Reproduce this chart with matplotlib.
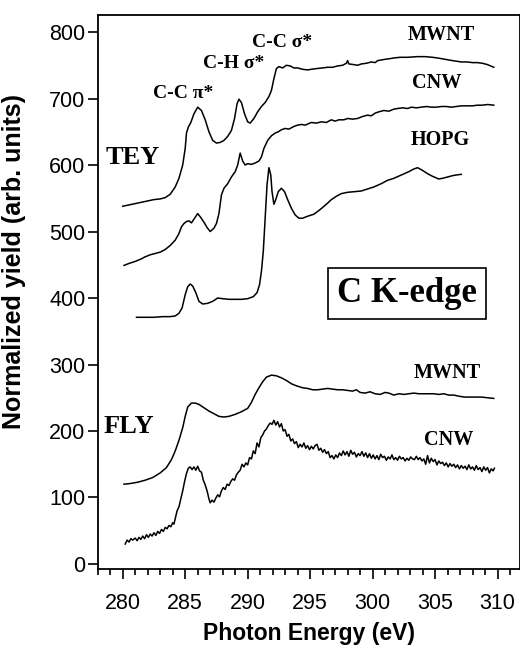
# ============================================================
# C K-edge NEXAFS spectra (TEY / FLY)
# ============================================================
import matplotlib
matplotlib.use("Agg")
import matplotlib.pyplot as plt
from matplotlib.ticker import MultipleLocator

# ==========================
# Data (photon energy eV, normalized yield)
# ==========================
tey_mwnt = [
    (280.0, 538), (280.5, 540), (281.0, 542), (281.5, 544), (282.0, 546),
    (282.5, 548), (283.0, 549), (283.4, 551), (283.8, 556), (284.2, 567),
    (284.5, 580), (284.8, 600), (285.0, 625), (285.1, 648), (285.25, 657),
    (285.45, 664), (285.7, 677), (286.0, 687), (286.3, 682), (286.6, 668),
    (286.9, 650), (287.2, 637), (287.5, 633), (287.8, 634), (288.1, 637),
    (288.4, 643), (288.7, 652), (288.95, 670), (289.15, 692), (289.3, 699),
    (289.5, 694), (289.75, 677), (290.0, 665), (290.2, 663), (290.5, 670),
    (290.8, 680), (291.1, 688), (291.4, 694), (291.7, 703), (291.9, 712),
    (292.1, 730), (292.3, 745), (292.5, 748), (292.8, 746), (293.1, 750),
    (293.4, 749), (293.7, 746), (294.0, 746), (294.4, 744), (294.8, 743),
    (295.1, 744), (295.5, 745), (296.0, 746), (296.4, 747), (296.8, 747),
    (297.2, 749), (297.6, 750), (297.9, 753), (298.0, 757), (298.1, 752),
    (298.5, 751), (298.8, 750), (299.1, 752), (299.5, 753), (299.9, 755),
    (300.2, 754), (300.4, 757), (300.7, 758), (301.0, 759), (301.4, 760),
    (301.7, 761), (302.2, 762), (302.8, 762), (303.6, 763), (304.2, 763),
    (304.8, 762), (305.2, 761), (305.8, 759), (306.4, 757), (307.1, 755),
    (307.6, 755), (308.0, 754), (308.4, 754), (308.8, 753), (309.2, 751),
    (309.7, 747),
]

tey_cnw = [
    (280.1, 449), (280.5, 452), (281.0, 455), (281.5, 459), (281.8, 462),
    (282.2, 465), (282.6, 467), (283.0, 469), (283.4, 473), (283.8, 479),
    (284.2, 487), (284.5, 497), (284.7, 507), (284.9, 512), (285.1, 515),
    (285.3, 516), (285.5, 513), (285.75, 520), (286.0, 527), (286.25, 521),
    (286.5, 514), (286.75, 506), (287.0, 500), (287.3, 505), (287.5, 512),
    (287.7, 527), (287.9, 555), (288.1, 565), (288.4, 572), (288.7, 582),
    (289.0, 590), (289.2, 600), (289.4, 618), (289.6, 606), (289.8, 600),
    (290.0, 602), (290.3, 601), (290.6, 603), (290.9, 606), (291.1, 612),
    (291.3, 625), (291.6, 637), (291.9, 644), (292.2, 648), (292.45, 650),
    (292.7, 653), (293.0, 655), (293.3, 654), (293.7, 658), (294.0, 660),
    (294.3, 661), (294.6, 660), (295.1, 664), (295.5, 663), (295.9, 665),
    (296.3, 664), (296.7, 668), (297.0, 666), (297.3, 668), (297.7, 668),
    (298.0, 670), (298.4, 669), (298.8, 670), (299.2, 673), (299.6, 675),
    (299.9, 674), (300.2, 678), (300.5, 680), (300.9, 682), (301.3, 681),
    (301.7, 684), (302.0, 685), (302.4, 686), (302.8, 685), (303.1, 687),
    (303.5, 686), (303.9, 687), (304.3, 688), (304.7, 687), (305.1, 687),
    (305.5, 688), (305.9, 688), (306.3, 687), (306.7, 688), (307.1, 689),
    (307.6, 689), (308.0, 689), (308.4, 690), (308.8, 690), (309.2, 691),
    (309.7, 690),
]

tey_hopg = [
    (281.1, 371), (281.8, 371), (282.5, 371), (283.2, 372), (283.8, 372),
    (284.2, 373), (284.5, 377), (284.75, 385), (285.0, 405), (285.2, 417),
    (285.4, 421), (285.6, 418), (285.85, 408), (286.1, 395), (286.4, 391),
    (286.8, 392), (287.2, 395), (287.6, 400), (288.0, 399), (288.5, 398),
    (289.0, 398), (289.5, 398), (290.0, 399), (290.45, 402), (290.75, 408),
    (290.95, 420), (291.1, 440), (291.25, 470), (291.4, 520), (291.55, 570),
    (291.7, 596), (291.85, 585), (291.95, 560), (292.1, 541), (292.25, 548),
    (292.45, 560), (292.7, 565), (292.95, 560), (293.2, 548), (293.5, 535),
    (293.8, 525), (294.1, 520), (294.4, 520), (294.8, 523), (295.3, 526),
    (295.8, 533), (296.3, 541), (296.7, 548), (297.1, 553), (297.5, 557),
    (298.0, 559), (298.6, 560), (299.1, 561), (299.6, 564), (300.1, 567),
    (300.7, 572), (301.2, 577), (301.7, 580), (302.3, 585), (302.9, 590),
    (303.3, 594), (303.6, 596), (303.9, 593), (304.4, 587), (304.8, 583),
    (305.3, 579), (305.6, 580), (306.0, 582), (306.4, 584), (306.7, 585),
    (307.1, 586),
]

fly_mwnt = [
    (280.1, 120), (280.6, 121), (281.2, 123), (281.8, 126), (282.4, 130),
    (283.0, 137), (283.5, 145), (283.9, 157), (284.2, 170), (284.5, 186),
    (284.8, 205), (285.0, 222), (285.2, 236), (285.5, 242), (285.8, 242),
    (286.1, 240), (286.5, 235), (286.9, 230), (287.3, 226), (287.7, 222),
    (288.1, 221), (288.5, 222), (289.0, 225), (289.5, 229), (290.0, 234),
    (290.3, 243), (290.6, 255), (290.9, 265), (291.2, 274), (291.5, 281),
    (291.9, 284), (292.3, 283), (292.7, 280), (293.1, 276), (293.5, 271),
    (293.9, 268), (294.4, 265), (294.8, 264), (295.2, 262), (295.6, 262),
    (296.0, 263), (296.4, 264), (296.8, 263), (297.2, 262), (297.6, 262),
    (298.0, 261), (298.4, 260), (298.7, 262), (299.0, 258), (299.4, 257),
    (299.8, 259), (300.2, 256), (300.6, 255), (301.0, 258), (301.3, 257),
    (301.7, 254), (302.1, 256), (302.5, 255), (302.9, 256), (303.3, 257),
    (303.7, 256), (304.1, 256), (304.5, 256), (304.9, 256), (305.3, 255),
    (305.7, 256), (306.1, 254), (306.5, 254), (307.0, 252), (307.4, 251),
    (307.8, 251), (308.2, 251), (308.7, 251), (309.2, 250), (309.7, 249),
]

fly_cnw = [
    (280.2, 30), (280.35, 36), (280.5, 33), (280.65, 38), (280.8, 36),
    (281.0, 39), (281.15, 35), (281.3, 40), (281.45, 37), (281.6, 42),
    (281.75, 38), (281.9, 44), (282.05, 40), (282.2, 45), (282.35, 42),
    (282.5, 47), (282.65, 43), (282.8, 49), (282.95, 46), (283.1, 52),
    (283.25, 49), (283.4, 55), (283.55, 53), (283.7, 58), (283.85, 56),
    (284.0, 62), (284.1, 60), (284.2, 68), (284.35, 80), (284.5, 86),
    (284.65, 98), (284.8, 110), (284.95, 124), (285.1, 136), (285.25, 144),
    (285.4, 146), (285.55, 142), (285.7, 146), (285.85, 141), (286.0, 147),
    (286.15, 140), (286.3, 138), (286.45, 126), (286.6, 119), (286.75, 110),
    (286.9, 98), (287.0, 92), (287.15, 96), (287.3, 93), (287.45, 99),
    (287.6, 104), (287.75, 101), (287.9, 110), (288.05, 115), (288.2, 112),
    (288.35, 120), (288.5, 118), (288.65, 124), (288.8, 128), (288.95, 126),
    (289.1, 134), (289.25, 138), (289.4, 141), (289.55, 150), (289.7, 146),
    (289.85, 152), (290.0, 149), (290.15, 160), (290.3, 158), (290.45, 170),
    (290.6, 166), (290.75, 182), (290.9, 176), (291.05, 190), (291.2, 194),
    (291.35, 200), (291.5, 203), (291.65, 208), (291.8, 212), (291.95, 210),
    (292.1, 216), (292.25, 209), (292.4, 214), (292.55, 206), (292.7, 211),
    (292.85, 200), (293.0, 202), (293.15, 192), (293.3, 195), (293.45, 185),
    (293.6, 188), (293.75, 181), (293.9, 184), (294.05, 175), (294.2, 180),
    (294.35, 176), (294.5, 182), (294.65, 174), (294.8, 178), (294.95, 172),
    (295.1, 177), (295.25, 173), (295.4, 178), (295.55, 180), (295.7, 171),
    (295.85, 174), (296.0, 168), (296.15, 172), (296.3, 166), (296.45, 169),
    (296.6, 160), (296.75, 163), (296.9, 158), (297.05, 164), (297.2, 160),
    (297.35, 167), (297.5, 163), (297.65, 170), (297.8, 164), (297.95, 169),
    (298.1, 162), (298.25, 171), (298.4, 165), (298.55, 168), (298.7, 161),
    (298.85, 166), (299.0, 163), (299.15, 169), (299.3, 162), (299.45, 167),
    (299.6, 160), (299.75, 166), (299.9, 159), (300.05, 164), (300.2, 158),
    (300.35, 163), (300.5, 157), (300.65, 165), (300.8, 160), (300.95, 162),
    (301.1, 156), (301.25, 161), (301.4, 158), (301.55, 164), (301.7, 157),
    (301.85, 160), (302.0, 156), (302.15, 162), (302.3, 158), (302.45, 160),
    (302.6, 155), (302.75, 159), (302.9, 156), (303.05, 161), (303.2, 158),
    (303.35, 157), (303.5, 162), (303.65, 157), (303.8, 160), (303.95, 155),
    (304.1, 158), (304.25, 150), (304.4, 163), (304.55, 152), (304.7, 159),
    (304.85, 154), (305.0, 157), (305.15, 149), (305.3, 155), (305.45, 151),
    (305.6, 153), (305.75, 148), (305.9, 152), (306.05, 146), (306.2, 151),
    (306.35, 147), (306.5, 150), (306.65, 145), (306.8, 149), (306.95, 143),
    (307.1, 148), (307.25, 144), (307.4, 147), (307.55, 142), (307.7, 149),
    (307.85, 143), (308.0, 146), (308.15, 141), (308.3, 148), (308.45, 142),
    (308.6, 145), (308.75, 139), (308.9, 146), (309.05, 141), (309.2, 145),
    (309.35, 137), (309.5, 143), (309.65, 140), (309.75, 144),
]

curves = [tey_mwnt, tey_cnw, tey_hopg, fly_mwnt, fly_cnw]

# ==========================
# Figure
# ==========================
fig = plt.figure(figsize=(5.2, 6.47), dpi=100)
ax = fig.add_axes([0.188, 0.1206, 0.812, 0.8562])

for c in curves:
    ex = [p[0] for p in c]
    ey = [p[1] for p in c]
    ax.plot(ex, ey, color="black", linewidth=1.1)

ax.set_xlim(278.0, 311.8)
ax.set_ylim(-7.5, 825.6)

ax.xaxis.set_major_locator(MultipleLocator(5))
ax.xaxis.set_minor_locator(MultipleLocator(1))
ax.yaxis.set_major_locator(MultipleLocator(100))

ax.tick_params(axis="both", which="major", direction="out", length=7,
               width=1.2, labelsize=15.5)
ax.tick_params(axis="x", which="major", pad=10)
ax.tick_params(axis="y", which="major", pad=2)
ax.tick_params(axis="x", which="minor", direction="out", length=4.5,
               width=1.2)
for lab in ax.get_xticklabels() + ax.get_yticklabels():
    lab.set_fontfamily("Liberation Sans")

for s in ax.spines.values():
    s.set_linewidth(1.3)

ax.set_xlabel("Photon Energy (eV)", fontsize=16.5, fontweight="bold",
              fontfamily="Liberation Sans", labelpad=6)
ax.set_ylabel("Normalized yield (arb. units)", fontsize=18,
              fontweight="bold", fontfamily="Liberation Sans")
ax.yaxis.set_label_coords(-0.17, 0.555)

# ==========================
# Labels
# ==========================
serif = dict(family="Liberation Serif", fontweight="bold", ha="center",
             va="center")
ax.text(284.87, 708, "C-C π*", fontsize=14, **serif)
ax.text(288.86, 753, "C-H σ*", fontsize=14, **serif)
ax.text(292.77, 785, "C-C σ*", fontsize=14, **serif)
ax.text(305.46, 795, "MWNT", fontsize=14.5, **serif)
ax.text(305.14, 723, "CNW", fontsize=14.5, **serif)
ax.text(305.46, 638, "HOPG", fontsize=14.5, **serif)
ax.text(306.0, 287, "MWNT", fontsize=14.5, **serif)
ax.text(306.1, 186, "CNW", fontsize=14.5, **serif)
ax.text(278.65, 612, "TEY", fontsize=19, family="Liberation Serif",
        fontweight="bold", ha="left", va="center")
ax.text(278.5, 207, "FLY", fontsize=19, family="Liberation Serif",
        fontweight="bold", ha="left", va="center")
ax.text(302.75, 407, "C K-edge", fontsize=25, **serif,
        bbox=dict(boxstyle="square,pad=0.26", facecolor="white",
                  edgecolor="black", linewidth=1.2))

plt.savefig("out.png", dpi=100)
